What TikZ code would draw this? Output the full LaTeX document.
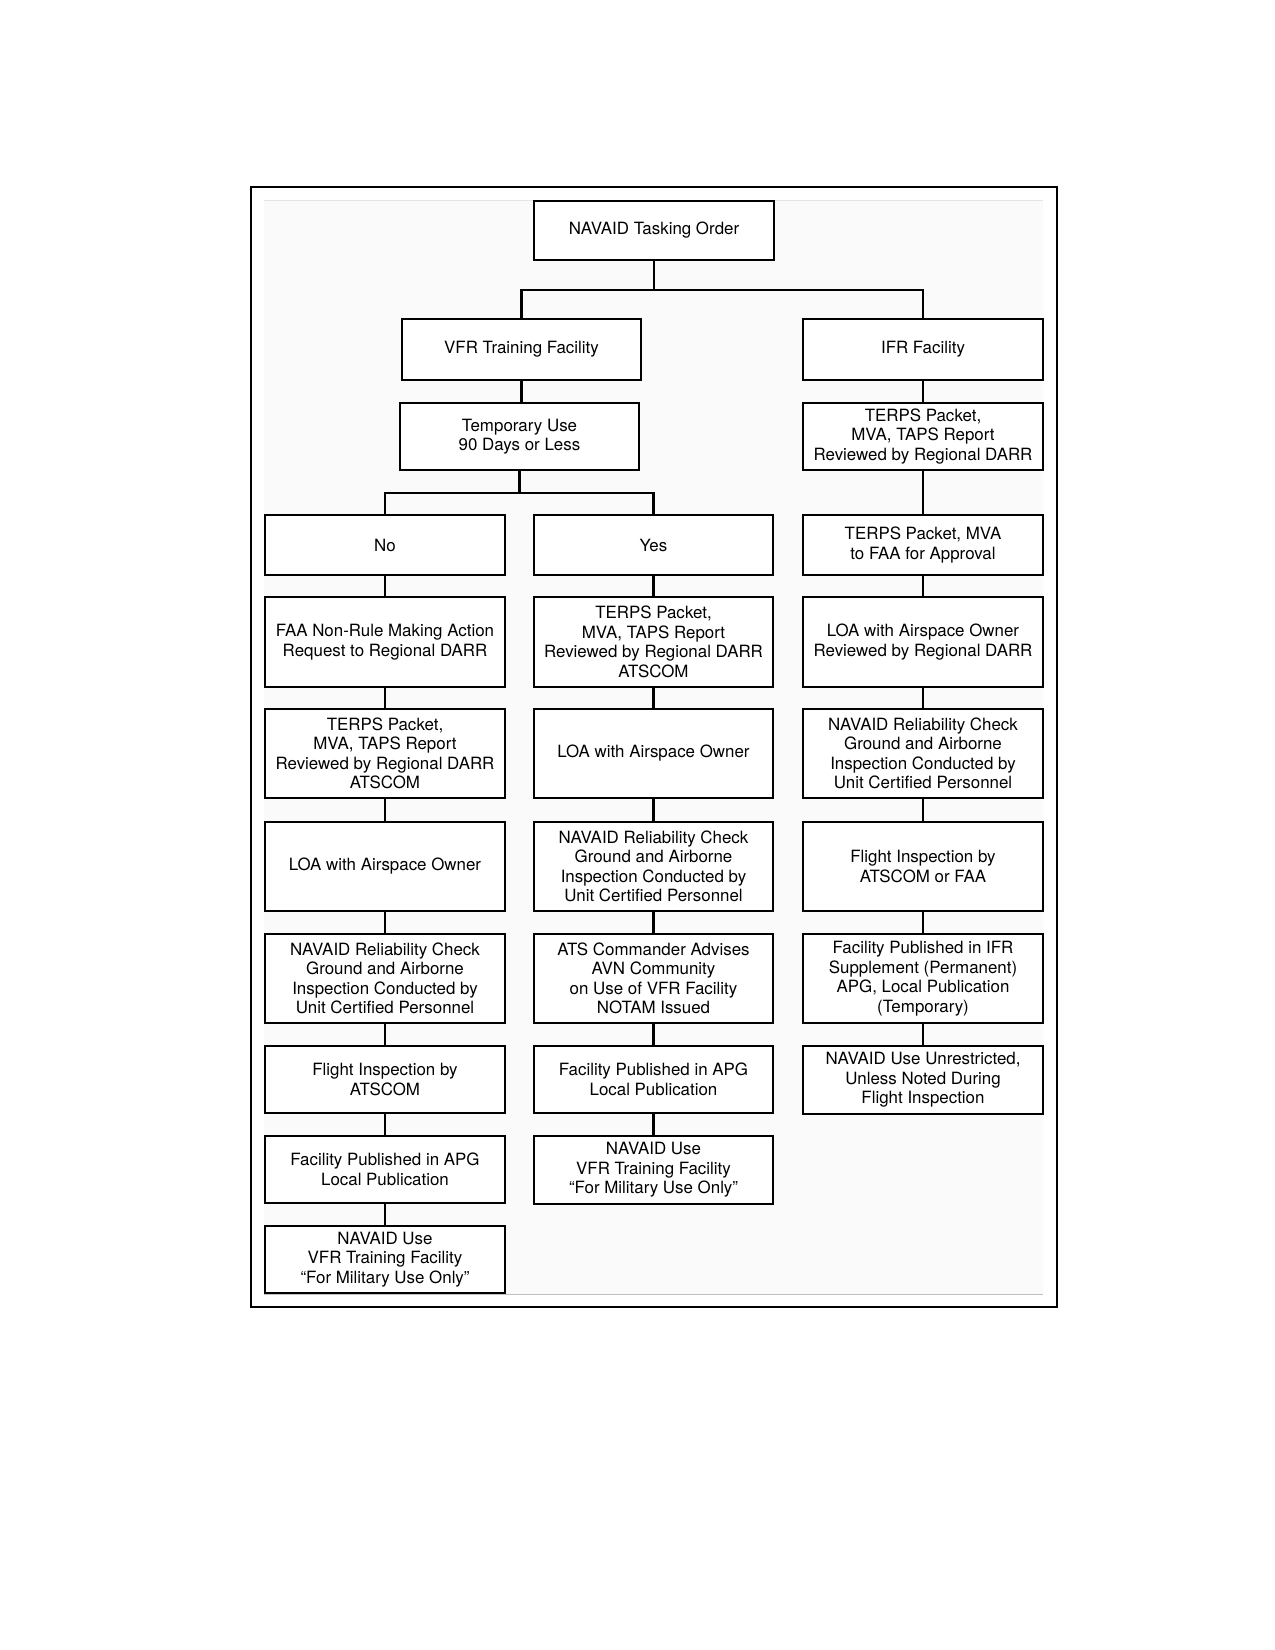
\documentclass[tikz,border=0pt]{standalone}
\usepackage{fontspec}
\setmainfont{TeX Gyre Heros}
\begin{document}
\begin{tikzpicture}[x=1pt,y=-1pt,
  box/.style={draw=black, line width=2.2pt, fill=white, align=center, inner sep=0pt,
    font=\fontsize{16.9}{19.5}\selectfont},
  colN/.style={box, minimum width=240pt},
  colY/.style={box, minimum width=239pt},
  colI/.style={box, minimum width=240pt},
  conn/.style={line width=2.2pt}]
\useasboundingbox (0,0) rectangle (1275,1650);
% frame and panel
\fill[black!2] (264,200) rectangle (1043,1294);
\draw[black!10, line width=0.8pt] (264,200) -- (1043,200);
\draw[black!25, line width=0.8pt] (264,1294) -- (1043,1294);
\draw[line width=2.5pt] (251,187) rectangle (1057,1307);

% top
\node[box, minimum width=240pt, minimum height=59pt] (top) at (654,230.5) {NAVAID Tasking Order};
\node[box, minimum width=239pt, minimum height=61pt] (vfr) at (521.5,349.5) {VFR Training Facility};
\node[box, minimum width=239pt, minimum height=67pt] (temp) at (519.5,436.5) {Temporary Use\\90 Days or Less};
\node[colI, minimum height=61pt] (ifr) at (923,349.5) {IFR Facility};
\node[colI, minimum height=67pt] (iterps) at (923,436.5) {TERPS Packet,\\MVA, TAPS Report\\Reviewed by Regional DARR};

% No column
\node[colN, minimum height=60pt] (no) at (385,545) {No};
\node[colN, minimum height=90pt] (nfaa) at (385,642) {FAA Non-Rule Making Action\\Request to Regional DARR};
\node[colN, minimum height=89pt] (nterps) at (385,753.5) {TERPS Packet,\\MVA, TAPS Report\\Reviewed by Regional DARR\\ATSCOM};
\node[colN, minimum height=89pt] (nloa) at (385,866.5) {LOA with Airspace Owner};
\node[colN, minimum height=89pt] (nnav) at (385,978.5) {NAVAID Reliability Check\\Ground and Airborne\\Inspection Conducted by\\Unit Certified Personnel};
\node[colN, minimum height=67pt] (nfi) at (385,1079.5) {Flight Inspection by\\ATSCOM};
\node[colN, minimum height=67pt] (npub) at (385,1169.5) {Facility Published in APG\\Local Publication};
\node[colN, minimum height=67pt] (nuse) at (385,1259.5) {NAVAID Use\\VFR Training Facility\\``For Military Use Only''};

% Yes column
\node[colY, minimum height=60pt] (yes) at (653.5,545) {Yes};
\node[colY, minimum height=90pt] (yterps) at (653.5,642) {TERPS Packet,\\MVA, TAPS Report\\Reviewed by Regional DARR\\ATSCOM};
\node[colY, minimum height=89pt] (yloa) at (653.5,753.5) {LOA with Airspace Owner};
\node[colY, minimum height=89pt] (ynav) at (653.5,866.5) {NAVAID Reliability Check\\Ground and Airborne\\Inspection Conducted by\\Unit Certified Personnel};
\node[colY, minimum height=89pt] (yats) at (653.5,978.5) {ATS Commander Advises\\AVN Community\\on Use of VFR Facility\\NOTAM Issued};
\node[colY, minimum height=67pt] (ypub) at (653.5,1079.5) {Facility Published in APG\\Local Publication};
\node[colY, minimum height=68pt] (yuse) at (653.5,1170) {NAVAID Use\\VFR Training Facility\\``For Military Use Only''};

% IFR column
\node[colI, minimum height=60pt] (ifaa) at (923,545) {TERPS Packet, MVA\\to FAA for Approval};
\node[colI, minimum height=90pt] (iloa) at (923,642) {LOA with Airspace Owner\\Reviewed by Regional DARR};
\node[colI, minimum height=89pt] (inav) at (923,753.5) {NAVAID Reliability Check\\Ground and Airborne\\Inspection Conducted by\\Unit Certified Personnel};
\node[colI, minimum height=89pt] (ifi) at (923,866.5) {Flight Inspection by\\ATSCOM or FAA};
\node[colI, minimum height=89pt] (ipub) at (923,978.5) {Facility Published in IFR\\Supplement (Permanent)\\APG, Local Publication\\(Temporary)};
\node[colI, minimum height=68pt] (iuse) at (923,1080) {NAVAID Use Unrestricted,\\Unless Noted During\\Flight Inspection};

% junctions
\coordinate (j1) at (654,290);
\coordinate (j2) at (519.5,493);

\begin{scope}[conn]
\draw (top.south) -- (j1);
\draw (vfr.north) |- (j1) -| (ifr.north);
\draw (temp.south) -- (j2);
\draw (no.north) |- (j2) -| (yes.north);
\foreach \a/\b in {vfr/temp, ifr/iterps, iterps/ifaa, ifaa/iloa, iloa/inav, inav/ifi, ifi/ipub, ipub/iuse,
  no/nfaa, nfaa/nterps, nterps/nloa, nloa/nnav, nnav/nfi, nfi/npub, npub/nuse,
  yes/yterps, yterps/yloa, yloa/ynav, ynav/yats, yats/ypub, ypub/yuse}
  \draw (\a.south) -- (\a.south |- \b.north);
\end{scope}
\end{tikzpicture}
\end{document}
